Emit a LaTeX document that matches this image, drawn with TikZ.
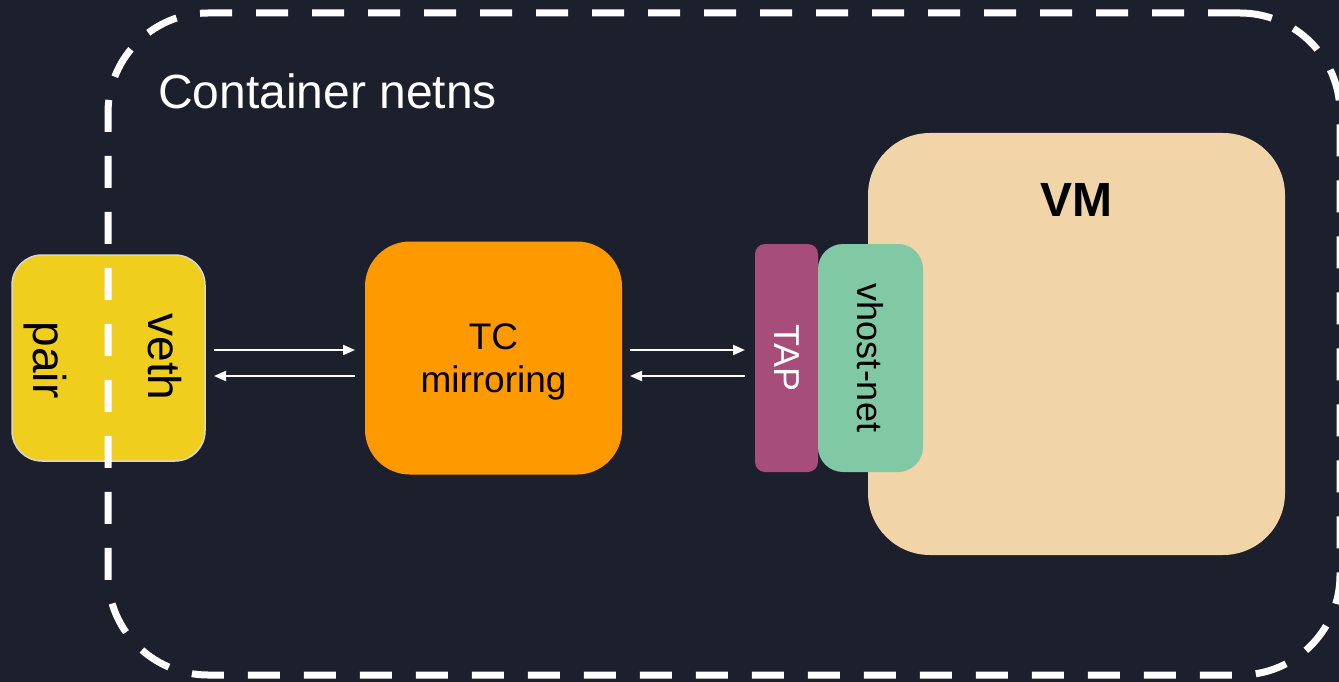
\documentclass[tikz,border=0pt]{standalone}
\usepackage{fontspec}
\setmainfont{Liberation Sans}
\usepackage{xcolor}
\usetikzlibrary{arrows.meta, positioning}
\definecolor{bgcolor}{RGB}{27,32,44}
\definecolor{vethcolor}{RGB}{240,206,30}
\definecolor{vethborder}{RGB}{215,215,215}
\definecolor{tccolor}{RGB}{255,153,0}
\definecolor{tapcolor}{RGB}{166,77,121}
\definecolor{vhostcolor}{RGB}{129,200,165}
\definecolor{vmcolor}{RGB}{242,212,169}

\begin{document}
\begin{tikzpicture}[
    x=1pt, y=-1pt,
    box/.style={rectangle, inner sep=0pt, outer sep=0pt},
    vtext/.style={rotate=-90, inner sep=0pt, font=\fontsize{36}{40}\selectfont},
    arrow/.style={draw=white, line width=2pt, -{Triangle[length=12pt,width=10pt]}}
]
\fill[bgcolor] (0,0) rectangle (1339,682);
\useasboundingbox (0,0) rectangle (1339,682);

\node (veth) [box, fill=vethcolor, draw=vethborder, line width=1.5pt, rounded corners=30pt, minimum width=193pt, minimum height=206pt] at (108.5,358) {};
\node (vethlabel) [vtext, font=\fontsize{46}{50}\selectfont] at (165,357) {veth};
\node (pairlabel) [vtext, font=\fontsize{46}{50}\selectfont] at (45,360) {pair};

\node (netns) [box, draw=white, line width=7pt, dash pattern=on 32pt off 24pt, rounded corners=100pt, minimum width=1232pt, minimum height=662pt] at (724,344) {};
\node (netnslabel) [anchor=base west, text=white, inner sep=0pt, font=\fontsize{48}{52}\selectfont] at (158,109) {Container netns};

\node (tc) [box, fill=tccolor, rounded corners=45pt, minimum width=257pt, minimum height=233pt] at (493.5,358) {};
\node (tclabel) [inner sep=0pt, align=center, font=\fontsize{37}{43}\selectfont] at ([yshift=-4pt]tc.center) {TC\\mirroring};

\node (vm) [box, fill=vmcolor, rounded corners=62pt, minimum width=417pt, minimum height=422pt] at (1076.5,344) {};
\node (vmlabel) [inner sep=0pt, font=\bfseries\fontsize{48}{52}\selectfont] at (1076,200) {VM};

\node (tap) [box, fill=tapcolor, rounded corners=10pt, minimum width=63pt, minimum height=228pt] at (786.5,358) {};
\node (vhost) [box, fill=vhostcolor, rounded corners=25pt, minimum width=105pt, minimum height=228pt] at (870.5,358) {};
\node (taplabel) [vtext, text=white] at (tap) {TAP};
\node (vhostlabel) [vtext] at (vhost) {vhost-net};

\draw [arrow, shorten <=9pt, shorten >=10pt] ([yshift=8pt]veth.east) -- ([yshift=8pt]tc.west);
\draw [arrow, shorten <=10pt, shorten >=9pt] ([yshift=-18pt]tc.west) -- ([yshift=-18pt]veth.east);
\draw [arrow, shorten <=8pt, shorten >=10pt] ([yshift=8pt]tc.east) -- ([yshift=8pt]tap.west);
\draw [arrow, shorten <=10pt, shorten >=8pt] ([yshift=-18pt]tap.west) -- ([yshift=-18pt]tc.east);
\end{tikzpicture}
\end{document}
